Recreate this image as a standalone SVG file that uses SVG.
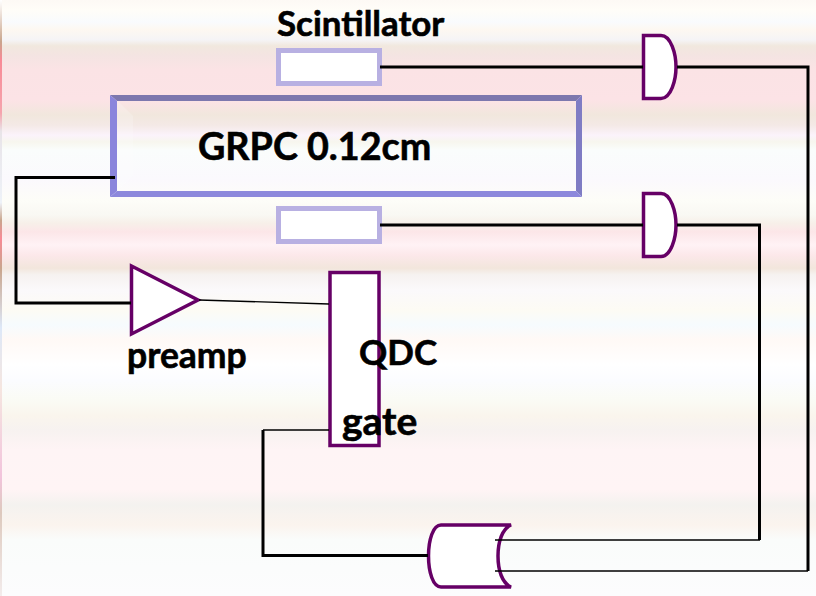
<svg xmlns="http://www.w3.org/2000/svg" width="816" height="596" viewBox="0 0 816 596">
<defs>
<linearGradient id="bg" gradientUnits="userSpaceOnUse" x1="0" y1="0" x2="0" y2="596">
<stop offset="0" stop-color="#fdf9f5"/><stop offset="0.017" stop-color="#fffdf8"/><stop offset="0.037" stop-color="#f9fbfd"/><stop offset="0.05" stop-color="#fdf8f1"/><stop offset="0.067" stop-color="#f5f4f6"/><stop offset="0.077" stop-color="#f1e8de"/><stop offset="0.092" stop-color="#f4e4e2"/><stop offset="0.117" stop-color="#fbe3e5"/><stop offset="0.168" stop-color="#fce3e6"/><stop offset="0.193" stop-color="#f1e7dd"/><stop offset="0.21" stop-color="#f4e9e6"/><stop offset="0.227" stop-color="#fbf3fb"/><stop offset="0.238" stop-color="#f7f6ee"/><stop offset="0.252" stop-color="#fafdfc"/><stop offset="0.302" stop-color="#fbf9fd"/><stop offset="0.336" stop-color="#fdfdf8"/><stop offset="0.361" stop-color="#f9f8f3"/><stop offset="0.374" stop-color="#f7f0e9"/><stop offset="0.389" stop-color="#fce6e8"/><stop offset="0.411" stop-color="#fff2f5"/><stop offset="0.428" stop-color="#fce8ea"/><stop offset="0.45" stop-color="#f2e6dc"/><stop offset="0.461" stop-color="#f6f2f0"/><stop offset="0.487" stop-color="#fbf9fb"/><stop offset="0.52" stop-color="#fdfbf4"/><stop offset="0.545" stop-color="#f6fbfe"/><stop offset="0.57" stop-color="#fff9f6"/><stop offset="0.612" stop-color="#ffffff"/><stop offset="0.638" stop-color="#fbfcff"/><stop offset="0.671" stop-color="#fafbf5"/><stop offset="0.698" stop-color="#faf5ed"/><stop offset="0.721" stop-color="#f7f2f0"/><stop offset="0.755" stop-color="#fef4f5"/><stop offset="0.822" stop-color="#fff4f5"/><stop offset="0.847" stop-color="#f4f2ef"/><stop offset="0.881" stop-color="#fbf4ee"/><stop offset="0.906" stop-color="#fafcfb"/><stop offset="1" stop-color="#fcfcfd"/>
</linearGradient>
<linearGradient id="edge" gradientUnits="userSpaceOnUse" x1="0" y1="0" x2="0" y2="596">
<stop offset="0" stop-color="#fff"/><stop offset="0.07" stop-color="#c9a58c"/><stop offset="0.1" stop-color="#f88a96"/><stop offset="0.19" stop-color="#f5a5ae"/><stop offset="0.22" stop-color="#e8e4e8"/><stop offset="0.34" stop-color="#eef2f8"/><stop offset="0.37" stop-color="#c9a58c"/><stop offset="0.4" stop-color="#f88a96"/><stop offset="0.45" stop-color="#c9a58c"/><stop offset="0.55" stop-color="#dde8f8"/><stop offset="0.65" stop-color="#f5e6e0"/><stop offset="0.8" stop-color="#f2c4dc"/><stop offset="0.86" stop-color="#ddc9bd"/><stop offset="1" stop-color="#f3ecec"/>
</linearGradient>
<style>
.wire{fill:none;stroke:#000;stroke-width:3}
.thin{fill:none;stroke:#000;stroke-width:1.3}
.logic{fill:#fff;stroke:#660066;stroke-width:3.5}
.scint{fill:#fff;stroke:#b8b0e2;stroke-width:5}
text{font-family:"Lato","Liberation Sans",sans-serif;font-weight:700;fill:#000;stroke:#000;stroke-width:0.6}
</style>
</defs>
<rect id="background" width="816" height="596" fill="url(#bg)"/>
<rect id="edge-strip" width="2" height="596" fill="url(#edge)"/>
<g id="grpc">
<polygon points="117,100 133,116 133,176 117,191" fill="#ffffff" opacity="0.2"/>
<polygon points="110,95 582,95 576,101 117,101" fill="#7d78ae"/>
<polygon points="110,95 117,101 117,191 110,197" fill="#8a85dc"/>
<polygon points="582,95 582,197 576,191 576,101" fill="#7f7cc4"/>
<polygon points="110,197 117,191 576,191 582,197" fill="#8c88dc"/>
<text x="198" y="160" font-size="37.700">GRPC 0.12cm</text>
</g>
<g id="scintillator-top">
<rect class="scint" x="278.5" y="50.5" width="101" height="33"/>
<text x="277" y="36" font-size="34.900">Scintillator</text>
</g>
<g id="scintillator-bottom">
<rect class="scint" x="278.5" y="208.5" width="101" height="33"/>
</g>
<g id="and-top">
<path class="logic" d="M643.5 35.5H661C671 35.5 676 54 676 67C676 80 671 98.500 661 98.500H643.500Z"/>
</g>
<g id="and-bottom">
<path class="logic" d="M643.5 193.500H661C671 193.500 676 212 676 225C676 238 671 256.500 661 256.500H643.500Z"/>
</g>
<g id="preamp">
<polygon class="logic" points="131.500,266 198,300 131.500,334"/>
<text x="127" y="368" font-size="35.500">preamp</text>
</g>
<g id="qdc">
<rect class="logic" x="330" y="272.500" width="49" height="173"/>
<text x="359" y="365" font-size="35">QDC</text>
<text x="342" y="435" font-size="39">gate</text>
</g>
<g id="or-gate">
<path class="logic" d="M511 525H441C433 525 428.500 540 428.500 556C428.500 572 433 587 441 587H511C502 583 498 570 498 556C498 542 502 529 511 525Z"/>
</g>
<g id="connectors">
<path class="wire" d="M380 67H643"/>
<path class="wire" d="M677 67H808V571"/>
<path class="wire" d="M380 225H643"/>
<path class="wire" d="M677 225H759.500V540"/>
<path class="wire" d="M115 177.500H16V303H131"/>
<path class="wire" d="M263 430V555.500H428"/>
<path class="thin" d="M199 300L329 304"/>
<path class="thin" d="M263 430H329"/>
<path class="thin" d="M495 540H760"/>
<path class="thin" d="M495 571H808"/>
</g>
</svg>
